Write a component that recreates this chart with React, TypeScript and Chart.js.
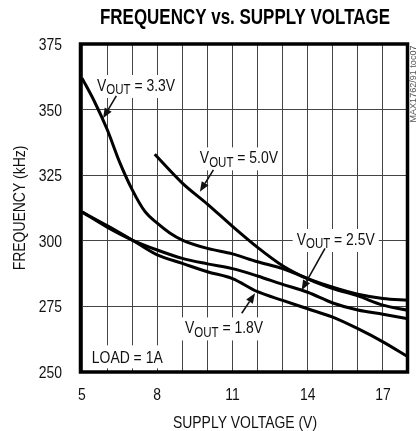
import React, { useEffect, useRef } from 'react';
import { Chart, registerables } from 'chart.js';

Chart.register(...registerables);

// ---- data (supply voltage in V, frequency in kHz) ----
const v33 = [5, 5.5, 6, 6.5, 7, 7.5, 8, 8.5, 9, 10, 11, 12, 13, 14, 15, 16, 17, 18];
const f33 = [362, 353, 342.5, 330, 319.5, 311.3, 306.7, 303, 300.3, 297.1, 295, 292, 289.4, 285.6, 282.3, 279.6, 278, 277.3];

const v50 = [7.9, 9, 10, 11, 12, 13, 14, 15, 16, 17, 18];
const f50 = [333, 322, 314, 305.5, 297.5, 290.5, 285.5, 281.8, 279, 275.5, 273.5];

const v25 = [5, 6, 7, 8, 9, 10, 11, 12, 13, 14, 15, 16, 17, 18];
const f25 = [311, 305.2, 300.3, 296.5, 293.3, 291.2, 289.4, 286.6, 283.4, 280.4, 276.3, 273.6, 272, 270.3];

const v18 = [5, 6, 7, 8, 9, 10, 11, 12, 13, 14, 15, 16, 17, 18];
const f18 = [311, 305.8, 300.3, 294.6, 291.4, 288.2, 285.6, 280.6, 277.3, 274.1, 270.9, 266.5, 261.5, 255.8];

const xTickLabels = [5, 8, 11, 14, 17];
const yTickLabels = [250, 275, 300, 325, 350, 375];

// annotation labels ("VOUT = ...") and their arrows, in data units
const noteVout = ['3.3V', '5.0V', '2.5V', '1.8V'];
const noteTextV = [5.6, 9.7, 13.56, 9.11];
const noteTextF = [357.1, 329.5, 298.4, 264.7];
const noteTailV = [6.37, 10.24, 14.69, 11.37];
const noteTailF = [355.2, 327, 297.1, 272.4];
const noteTipV = [5.84, 9.7, 13.76, 11.9];
const noteTipF = [346.7, 318.7, 281.2, 280];

const loadText = 'LOAD = 1A';
const loadV = 5.39;
const loadF = 253.3;

const FONT = '"Liberation Sans", Arial, Helvetica, sans-serif';
const INK = '#111';
const NARROW = 0.82; // condensed look of the original type

function setFont(ctx: CanvasRenderingContext2D, size: number, weight = '') {
  ctx.font = `${weight ? weight + ' ' : ''}${size}px ${FONT}`;
}

function narrowText(
  ctx: CanvasRenderingContext2D,
  text: string,
  x: number,
  y: number,
  size: number,
  align: CanvasTextAlign,
  baseline: CanvasTextBaseline,
  rotate = 0
) {
  ctx.save();
  ctx.translate(x, y);
  if (rotate) ctx.rotate(rotate);
  ctx.scale(NARROW, 1);
  setFont(ctx, size);
  ctx.textAlign = align;
  ctx.textBaseline = baseline;
  ctx.fillText(text, 0, 0);
  ctx.restore();
}

function voutWidth(ctx: CanvasRenderingContext2D, val: string) {
  setFont(ctx, 17);
  const w1 = ctx.measureText('V').width;
  const w3 = ctx.measureText(' = ' + val).width;
  setFont(ctx, 14);
  const w2 = ctx.measureText('OUT').width;
  return (w1 + w2 + w3) * NARROW;
}

function drawVout(ctx: CanvasRenderingContext2D, x: number, base: number, val: string) {
  ctx.save();
  ctx.translate(x, base);
  ctx.scale(NARROW, 1);
  ctx.textAlign = 'left';
  ctx.textBaseline = 'alphabetic';
  setFont(ctx, 17);
  ctx.fillText('V', 0, 0);
  const w1 = ctx.measureText('V').width;
  setFont(ctx, 14);
  ctx.fillText('OUT', w1, 3.5);
  const w2 = ctx.measureText('OUT').width;
  setFont(ctx, 17);
  ctx.fillText(' = ' + val, w1 + w2, 0);
  ctx.restore();
}

function drawArrow(ctx: CanvasRenderingContext2D, x0: number, y0: number, x1: number, y1: number) {
  const ang = Math.atan2(y1 - y0, x1 - x0);
  const len = 10;
  const half = 4;
  const bx = x1 - len * Math.cos(ang);
  const by = y1 - len * Math.sin(ang);
  ctx.beginPath();
  ctx.moveTo(x0, y0);
  ctx.lineTo(bx, by);
  ctx.lineWidth = 1.6;
  ctx.stroke();
  ctx.beginPath();
  ctx.moveTo(x1, y1);
  ctx.lineTo(bx + half * Math.sin(ang), by - half * Math.cos(ang));
  ctx.lineTo(bx - half * Math.sin(ang), by + half * Math.cos(ang));
  ctx.closePath();
  ctx.fill();
}

const annotPlugin = {
  id: 'annotations',
  beforeDatasetsDraw(chart: any) {
    const { ctx, scales } = chart;
    const xs = scales.x;
    const ys = scales.y;
    ctx.save();
    ctx.fillStyle = '#ffffff';
    for (let i = 0; i < noteVout.length; i++) {
      const x = xs.getPixelForValue(noteTextV[i]);
      const b = ys.getPixelForValue(noteTextF[i]);
      const w = voutWidth(ctx, noteVout[i]);
      ctx.fillRect(x - 4, b - 16, w + 8, 23);
    }
    setFont(ctx, 17);
    const lx = xs.getPixelForValue(loadV);
    const lb = ys.getPixelForValue(loadF);
    const lw = ctx.measureText(loadText).width * NARROW;
    ctx.fillRect(lx - 6, lb - 18, lw + 12, 23);
    ctx.restore();
  },
  afterDatasetsDraw(chart: any) {
    const { ctx, scales, chartArea } = chart;
    const xs = scales.x;
    const ys = scales.y;
    ctx.save();
    ctx.fillStyle = INK;
    ctx.strokeStyle = INK;
    for (let i = 0; i < noteVout.length; i++) {
      drawVout(ctx, xs.getPixelForValue(noteTextV[i]), ys.getPixelForValue(noteTextF[i]), noteVout[i]);
      drawArrow(
        ctx,
        xs.getPixelForValue(noteTailV[i]),
        ys.getPixelForValue(noteTailF[i]),
        xs.getPixelForValue(noteTipV[i]),
        ys.getPixelForValue(noteTipF[i])
      );
    }
    narrowText(ctx, loadText, xs.getPixelForValue(loadV), ys.getPixelForValue(loadF), 17, 'left', 'alphabetic');

    // frame
    ctx.strokeStyle = '#000';
    ctx.lineWidth = 3.5;
    ctx.strokeRect(chartArea.left - 1.5, chartArea.top, chartArea.width + 1, chartArea.height);
    ctx.restore();
  },
  afterDraw(chart: any) {
    const { ctx, scales, chartArea } = chart;
    const xs = scales.x;
    const ys = scales.y;

    // tick labels and axis titles (condensed)
    ctx.save();
    ctx.fillStyle = INK;
    xs.ticks.forEach((t: any) => {
      if (xTickLabels.includes(t.value)) {
        narrowText(ctx, String(t.value), xs.getPixelForValue(t.value), 400, 17, 'center', 'alphabetic');
      }
    });
    ys.ticks.forEach((t: any) => {
      if (yTickLabels.includes(t.value)) {
        narrowText(ctx, String(t.value), chartArea.left - 20, ys.getPixelForValue(t.value) + 6, 17, 'right', 'alphabetic');
      }
    });
    narrowText(ctx, 'SUPPLY VOLTAGE (V)', (chartArea.left + chartArea.right) / 2, 428, 17, 'center', 'alphabetic');
    narrowText(ctx, 'FREQUENCY (kHz)', 25, (chartArea.top + chartArea.bottom) / 2, 17, 'center', 'alphabetic', -Math.PI / 2);
    ctx.restore();

    // main title
    ctx.save();
    ctx.fillStyle = '#000';
    setFont(ctx, 22, 'bold');
    ctx.textAlign = 'center';
    ctx.textBaseline = 'alphabetic';
    const title = 'FREQUENCY vs. SUPPLY VOLTAGE';
    const tw = ctx.measureText(title).width;
    ctx.translate(245, 24);
    ctx.scale(290 / tw, 1);
    ctx.fillText(title, 0, 0);
    ctx.restore();

    // side reference code
    ctx.save();
    ctx.fillStyle = '#555';
    setFont(ctx, 9);
    const code = 'MAX1762/91 toc07';
    const cw = ctx.measureText(code).width;
    ctx.translate(414, 84);
    ctx.rotate(-Math.PI / 2);
    ctx.scale(77 / cw, 1);
    ctx.textAlign = 'center';
    ctx.textBaseline = 'middle';
    ctx.fillText(code, 0, 0);
    ctx.restore();
  },
};

function toPoints(xs: number[], ys: number[]) {
  return xs.map((x, i) => ({ x, y: ys[i] }));
}

export default function App() {
  const ref = useRef<HTMLCanvasElement | null>(null);

  useEffect(() => {
    if (!ref.current) return;
    const lineStyle = {
      borderColor: '#000',
      borderWidth: 3,
      pointRadius: 0,
      fill: false,
      cubicInterpolationMode: 'monotone' as const,
    };
    const chart = new Chart(ref.current, {
      type: 'line',
      data: {
        datasets: [
          { label: 'VOUT = 3.3V', data: toPoints(v33, f33), ...lineStyle },
          { label: 'VOUT = 5.0V', data: toPoints(v50, f50), ...lineStyle },
          { label: 'VOUT = 2.5V', data: toPoints(v25, f25), ...lineStyle },
          { label: 'VOUT = 1.8V', data: toPoints(v18, f18), ...lineStyle },
        ],
      },
      options: {
        animation: false,
        responsive: false,
        maintainAspectRatio: false,
        layout: { padding: { left: 0, top: 44, right: 11, bottom: 0 } },
        plugins: {
          legend: { display: false },
          tooltip: { enabled: false },
          title: { display: false },
        },
        scales: {
          x: {
            type: 'linear',
            min: 5,
            max: 18,
            ticks: { stepSize: 1, autoSkip: false, display: false },
            grid: { color: '#444', lineWidth: 1, drawTicks: false },
            border: { display: false },
            title: { display: false },
            afterFit: (s: any) => {
              s.height = 59;
            },
          },
          y: {
            type: 'linear',
            min: 250,
            max: 375,
            ticks: { stepSize: 25, display: false },
            grid: { color: '#444', lineWidth: 1, drawTicks: false },
            border: { display: false },
            title: { display: false },
            afterFit: (s: any) => {
              s.width = 82;
            },
          },
        },
      },
      plugins: [annotPlugin],
    });
    return () => chart.destroy();
  }, []);

  return (
    <div style={{ position: 'fixed', left: 0, top: 0, width: 419, height: 431, background: '#fff' }}>
      <canvas ref={ref} width={419} height={431} style={{ display: 'block', width: 419, height: 431 }} />
    </div>
  );
}
